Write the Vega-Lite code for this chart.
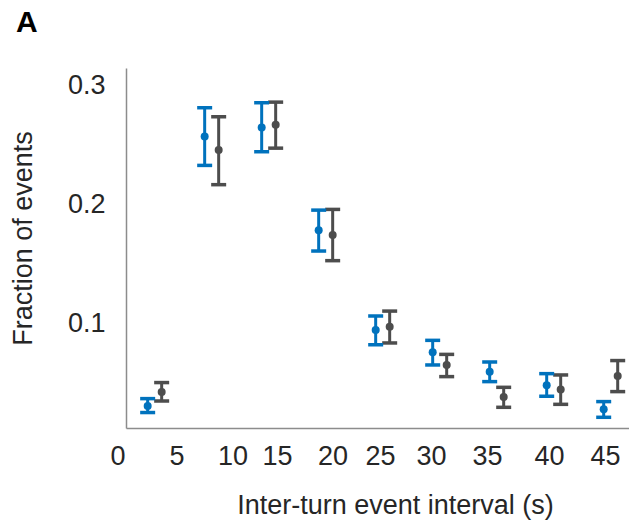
{
  "$schema": "https://vega.github.io/schema/vega-lite/v6.json",
  "autosize": "none",
  "width": 503,
  "height": 360,
  "padding": {"left": 126, "top": 68, "right": 0, "bottom": 93},
  "background": "white",
  "title": {"text": "A", "anchor": "start", "frame": "group", "orient": "top", "dx": -110, "dy": 26, "offset": 32, "baseline": "alphabetic", "fontSize": 30, "fontWeight": "bold", "font": "Liberation Sans", "color": "#000000"},
  "config": {
    "view": {"stroke": null},
    "font": "Liberation Sans"
  },
  "data": {
    "values": [
      {"interval": 5, "group": "A", "mean": 0.0305, "lo": 0.0250, "hi": 0.0367},
      {"interval": 5, "group": "B", "mean": 0.0423, "lo": 0.0347, "hi": 0.0502},
      {"interval": 10, "group": "A", "mean": 0.2571, "lo": 0.2328, "hi": 0.2813},
      {"interval": 10, "group": "B", "mean": 0.2457, "lo": 0.2166, "hi": 0.2737},
      {"interval": 15, "group": "A", "mean": 0.2647, "lo": 0.2443, "hi": 0.2855},
      {"interval": 15, "group": "B", "mean": 0.2670, "lo": 0.2473, "hi": 0.2860},
      {"interval": 20, "group": "A", "mean": 0.1782, "lo": 0.1608, "hi": 0.1952},
      {"interval": 20, "group": "B", "mean": 0.1742, "lo": 0.1527, "hi": 0.1958},
      {"interval": 25, "group": "A", "mean": 0.0944, "lo": 0.0821, "hi": 0.1061},
      {"interval": 25, "group": "B", "mean": 0.0972, "lo": 0.0835, "hi": 0.1103},
      {"interval": 30, "group": "A", "mean": 0.0756, "lo": 0.0650, "hi": 0.0857},
      {"interval": 30, "group": "B", "mean": 0.0650, "lo": 0.0552, "hi": 0.0739},
      {"interval": 35, "group": "A", "mean": 0.0594, "lo": 0.0510, "hi": 0.0675},
      {"interval": 35, "group": "B", "mean": 0.0381, "lo": 0.0294, "hi": 0.0462},
      {"interval": 40, "group": "A", "mean": 0.0479, "lo": 0.0387, "hi": 0.0577},
      {"interval": 40, "group": "B", "mean": 0.0443, "lo": 0.0319, "hi": 0.0566},
      {"interval": 45, "group": "A", "mean": 0.0277, "lo": 0.0210, "hi": 0.0342},
      {"interval": 45, "group": "B", "mean": 0.0557, "lo": 0.0426, "hi": 0.0687}
    ]
  },
  "encoding": {
    "x": {
      "field": "interval", "type": "quantitative",
      "scale": {"domain": [3.1, 47.22], "nice": false, "zero": false},
      "axis": {
        "title": "Inter-turn event interval (s)",
        "values": [3.1, 7.54, 12.44, 16.34, 21.21, 25.38, 29.85, 34.76, 40.2, 45.11],
        "labelExpr": "indexof([3.1, 7.54, 12.44, 16.34, 21.21, 25.38, 29.85, 34.76, 40.2, 45.11], datum.value) * 5",
        "labelAlign": {"condition": {"test": "datum.value < 3.2", "value": "right"}, "value": "center"},
        "labelOffset": {"condition": {"test": "datum.value < 3.2", "value": -1}, "value": 0},
        "grid": false, "ticks": false,
        "domainColor": "#8c8c8c", "domainWidth": 1.5,
        "labelFontSize": 27, "labelColor": "#262626", "labelPadding": 15, "labelFlush": false, "labelOverlap": false, "labelBound": false,
        "titleFontSize": 27, "titleFontWeight": "normal", "titleColor": "#262626",
        "titleX": 269, "titleY": 85, "titleBaseline": "alphabetic"
      }
    },
    "y": {
      "field": "lo", "type": "quantitative",
      "scale": {"domain": [0.012, 0.3147], "nice": false, "zero": false},
      "axis": {
        "title": "Fraction of events",
        "values": [0.1, 0.2, 0.3], "format": ".1f",
        "grid": false, "ticks": false,
        "domainColor": "#8c8c8c", "domainWidth": 1.5,
        "labelFontSize": 27, "labelColor": "#262626", "labelPadding": 21,
        "titleFontSize": 27, "titleFontWeight": "normal", "titleColor": "#262626",
        "titlePadding": 30, "titleY": 170
      }
    },
    "color": {"field": "group", "type": "nominal", "scale": {"domain": ["A", "B"], "range": ["#0072BD", "#4d4d4d"]}, "legend": null}
  },
  "layer": [
    {
      "transform": [{"filter": "datum.group === 'B'"}],
      "layer": [
        {"mark": {"type": "rule", "strokeWidth": 3, "xOffset": 14}, "encoding": {"y2": {"field": "hi"}}},
        {"mark": {"type": "tick", "orient": "horizontal", "size": 15, "thickness": 3.5, "opacity": 1, "xOffset": 14}},
        {"mark": {"type": "tick", "orient": "horizontal", "size": 15, "thickness": 3.5, "opacity": 1, "xOffset": 14}, "encoding": {"y": {"field": "hi", "type": "quantitative"}}},
        {"mark": {"type": "point", "filled": true, "shape": "circle", "size": 64, "opacity": 1, "xOffset": 14}, "encoding": {"y": {"field": "mean", "type": "quantitative"}}}
      ]
    },
    {
      "transform": [{"filter": "datum.group === 'A'"}],
      "layer": [
        {"mark": {"type": "rule", "strokeWidth": 3}, "encoding": {"y2": {"field": "hi"}}},
        {"mark": {"type": "tick", "orient": "horizontal", "size": 15, "thickness": 3.5, "opacity": 1}},
        {"mark": {"type": "tick", "orient": "horizontal", "size": 15, "thickness": 3.5, "opacity": 1}, "encoding": {"y": {"field": "hi", "type": "quantitative"}}},
        {"mark": {"type": "point", "filled": true, "shape": "circle", "size": 64, "opacity": 1}, "encoding": {"y": {"field": "mean", "type": "quantitative"}}}
      ]
    }
  ]
}
